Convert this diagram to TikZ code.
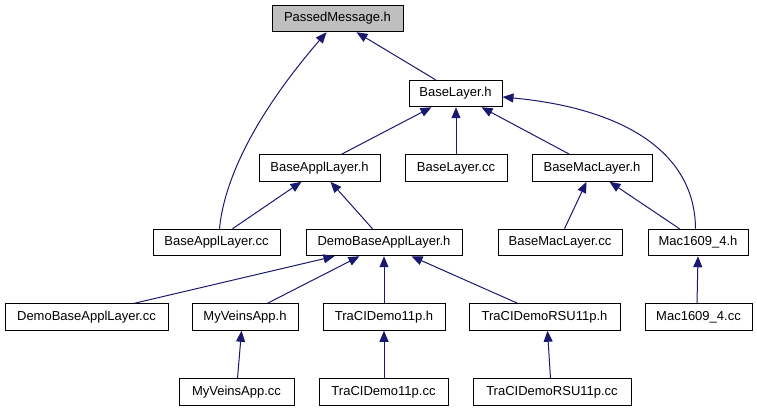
\documentclass[tikz,border=0pt]{standalone}
\usepackage{fontspec}
\setmainfont{Liberation Sans}
\usetikzlibrary{arrows.meta}
\definecolor{edgeblue}{HTML}{191970}
\definecolor{rootgray}{HTML}{BFBFBF}
\tikzset{
  box/.style={draw=black, line width=1pt, fill=white, inner sep=0pt, minimum height=26.5pt,
    font=\fontsize{13}{15}\selectfont},
  edge/.style={draw=edgeblue, line width=1pt, -{Triangle[length=11pt,width=9pt]}}
}
\begin{document}
\begin{tikzpicture}[x=1pt,y=-1pt]
\useasboundingbox (0,0) rectangle (757,411);
% row 0
\node[box, fill=rootgray, minimum width=131pt] (pm) at (337.5,18.5) {PassedMessage.h};
% row 1
\node[box, minimum width=93pt] (bl) at (455.5,93.5) {BaseLayer.h};
% row 2
\node[box, minimum width=121pt] (bah) at (319.5,168) {BaseApplLayer.h};
\node[box, minimum width=102pt] (blcc) at (456,168) {BaseLayer.cc};
\node[box, minimum width=120pt] (bmh) at (592,168) {BaseMacLayer.h};
% row 3
\node[box, minimum width=127pt] (bacc) at (216.5,242.5) {BaseApplLayer.cc};
\node[box, minimum width=156pt] (dbh) at (384,242.5) {DemoBaseApplLayer.h};
\node[box, minimum width=124pt] (bmcc) at (560,242.5) {BaseMacLayer.cc};
\node[box, minimum width=100pt] (mh) at (698,242.5) {Mac1609\_4.h};
% row 4
\node[box, minimum width=163pt] (dbcc) at (86.5,317) {DemoBaseApplLayer.cc};
\node[box, minimum width=106pt] (mvh) at (245,317) {MyVeinsApp.h};
\node[box, minimum width=122pt] (tdh) at (384,317) {TraCIDemo11p.h};
\node[box, minimum width=151pt] (trh) at (544.5,317) {TraCIDemoRSU11p.h};
\node[box, minimum width=107pt] (mcc) at (698.5,317) {Mac1609\_4.cc};
% row 5
\node[box, minimum width=115pt] (mvcc) at (236.5,392) {MyVeinsApp.cc};
\node[box, minimum width=129pt] (tdcc) at (383.5,392) {TraCIDemo11p.cc};
\node[box, minimum width=158pt] (trcc) at (552,392) {TraCIDemoRSU11p.cc};
% edges
\draw[edge] ([xshift=27pt]bl.north west) -- ([xshift=85pt]pm.south west);
\draw[edge] ([xshift=67pt]bacc.north west) .. controls (224,180) and (255,115) .. ([xshift=55pt]pm.south west);
\draw[edge] ([xshift=83pt]bah.north west) -- ([xshift=23pt]bl.south west);
\draw[edge] (blcc.north) -- ([xshift=0.5pt]bl.south);
\draw[edge] ([xshift=38pt]bmh.north west) -- ([xshift=73pt]bl.south west);
\draw[edge] ([xshift=48pt]mh.north west) .. controls (695,150) and (620,108) .. ([yshift=-3.5pt]bl.east);
\draw[edge] ([xshift=80pt]bacc.north west) -- ([xshift=43pt]bah.south west);
\draw[edge] ([xshift=67pt]dbh.north west) -- ([xshift=72pt]bah.south west);
\draw[edge] ([xshift=67pt]bmcc.north west) -- ([xshift=55pt]bmh.south west);
\draw[edge] ([xshift=32pt]mh.north west) -- ([xshift=78pt]bmh.south west);
\draw[edge] ([xshift=130pt]dbcc.north west) -- ([xshift=29pt]dbh.south west);
\draw[edge] ([xshift=76pt]mvh.north west) -- ([xshift=54pt]dbh.south west);
\draw[edge] (tdh.north) -- (dbh.south);
\draw[edge] ([xshift=49pt]trh.north west) -- ([xshift=106pt]dbh.south west);
\draw[edge] ([xshift=-1.5pt]mcc.north) -- (mh.south);
\draw[edge] ([xshift=59pt]mvcc.north west) -- ([xshift=50pt]mvh.south west);
\draw[edge] ([xshift=0.5pt]tdcc.north) -- (tdh.south);
\draw[edge] ([xshift=78pt]trcc.north west) -- ([xshift=79pt]trh.south west);
\end{tikzpicture}
\end{document}
